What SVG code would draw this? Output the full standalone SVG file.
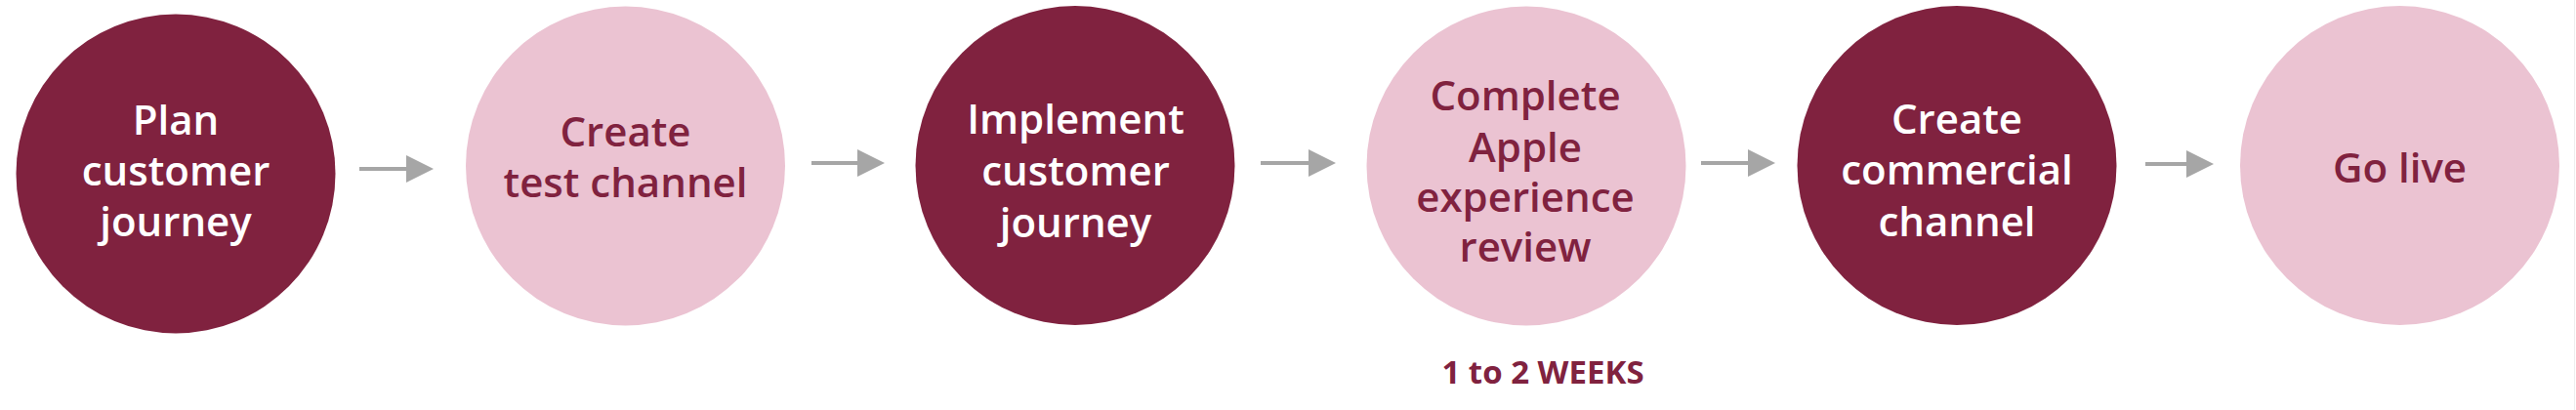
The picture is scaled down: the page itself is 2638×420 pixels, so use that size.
<svg xmlns="http://www.w3.org/2000/svg" width="2638" height="420" viewBox="0 0 2638 420">
  <style>
    .dark { fill: #80223F; }
    .light { fill: #EBC3D2; }
    .lbl { font-family: "Open Sans", "Liberation Sans", sans-serif; font-weight: 600; font-size: 42px; text-anchor: middle; }
    .onDark { fill: #FFFFFF; }
    .onLight { fill: #80223F; }
    .note { font-family: "Open Sans", "Liberation Sans", sans-serif; font-weight: 700; font-size: 33px; text-anchor: middle; fill: #80223F; }
    .conn { stroke: #A6A6A6; stroke-width: 4; fill: none; }
  </style>
  <defs>
    <marker id="head" markerUnits="userSpaceOnUse" markerWidth="28" markerHeight="28" viewBox="0 0 28 28" refX="0" refY="14" orient="auto">
      <path d="M0,0 L28,14 L0,28 Z" fill="#A6A6A6"/>
    </marker>
  </defs>
  <rect x="0" y="0" width="2638" height="420" fill="#FFFFFF"/>
  <line x1="2636.5" y1="0" x2="2636.5" y2="420" stroke="#EEEEEE" stroke-width="1"/>

  <g id="connectors">
    <line class="conn" x1="368" y1="173" x2="416" y2="173" marker-end="url(#head)"/>
    <line class="conn" x1="831" y1="167" x2="878" y2="167" marker-end="url(#head)"/>
    <line class="conn" x1="1291" y1="167" x2="1340" y2="167" marker-end="url(#head)"/>
    <line class="conn" x1="1742" y1="167" x2="1790" y2="167" marker-end="url(#head)"/>
    <line class="conn" x1="2197" y1="168" x2="2239" y2="168" marker-end="url(#head)"/>
  </g>

  <g id="plan-customer-journey">
    <circle class="dark" cx="180" cy="178" r="163.5"/>
    <text class="lbl onDark" x="180" y="138">Plan</text>
    <text class="lbl onDark" x="180" y="190">customer</text>
    <text class="lbl onDark" x="180" y="242">journey</text>
  </g>

  <g id="create-test-channel">
    <circle class="light" cx="640.5" cy="170" r="163.5"/>
    <text class="lbl onLight" x="640.5" y="150">Create</text>
    <text class="lbl onLight" x="640.5" y="202">test channel</text>
  </g>

  <g id="implement-customer-journey">
    <circle class="dark" cx="1101" cy="169.5" r="163.5"/>
    <text class="lbl onDark" x="1101.5" y="137">Implement</text>
    <text class="lbl onDark" x="1101.5" y="190">customer</text>
    <text class="lbl onDark" x="1101.5" y="243">journey</text>
  </g>

  <g id="complete-apple-experience-review">
    <circle class="light" cx="1563" cy="170" r="163.5"/>
    <text class="lbl onLight" x="1562" y="113">Complete</text>
    <text class="lbl onLight" x="1562" y="166">Apple</text>
    <text class="lbl onLight" x="1562" y="217">experience</text>
    <text class="lbl onLight" x="1562" y="268">review</text>
    <text class="note" x="1580" y="393">1 to 2 WEEKS</text>
  </g>

  <g id="create-commercial-channel">
    <circle class="dark" cx="2004" cy="169.5" r="163.5"/>
    <text class="lbl onDark" x="2004" y="137">Create</text>
    <text class="lbl onDark" x="2004" y="189">commercial</text>
    <text class="lbl onDark" x="2004" y="242">channel</text>
  </g>

  <g id="go-live">
    <circle class="light" cx="2457.5" cy="169.5" r="163.5"/>
    <text class="lbl onLight" x="2457.5" y="187">Go live</text>
  </g>
</svg>
